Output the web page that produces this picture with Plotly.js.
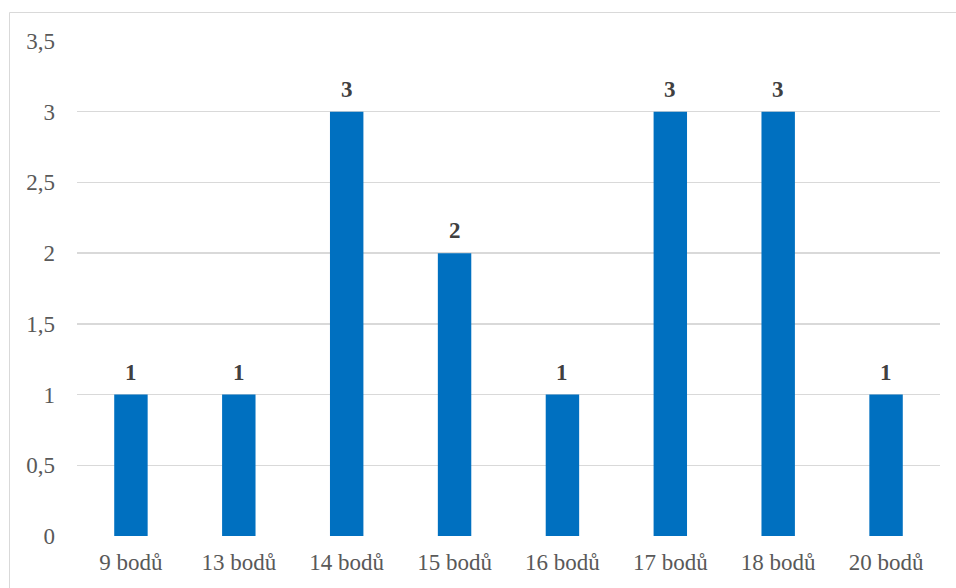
<!DOCTYPE html>
<html>
<head>
<meta charset="utf-8">
<script src="https://cdn.plot.ly/plotly-3.0.1.min.js"></script>
<style>
  html, body { margin: 0; padding: 0; background: #ffffff; }
  #chart { width: 956px; height: 588px; }
</style>
</head>
<body>
<div id="chart"></div>
<script>
// Počet žáků podle dosaženého počtu bodů
const categories = ['9 bodů', '13 bodů', '14 bodů', '15 bodů', '16 bodů', '17 bodů', '18 bodů', '20 bodů'];
const counts = [1, 1, 3, 2, 1, 3, 3, 1];
const yTickValues = [0, 0.5, 1, 1.5, 2, 2.5, 3, 3.5];
const yTickLabels = ['0', '0,5', '1', '1,5', '2', '2,5', '3', '3,5'];

const W = 956, H = 588;
const margin = { l: 77, r: 16, t: 41, b: 52 };
const plotW = W - margin.l - margin.r;
const plotH = H - margin.t - margin.b;
const SERIF = "'Liberation Serif', 'Times New Roman', Times, serif";

const barTrace = {
  type: 'bar',
  x: categories,
  y: counts,
  marker: { color: '#0070C0', line: { width: 0 } },
  width: 0.31,
  hoverinfo: 'skip'
};

// Value labels above each bar
const labels = categories.map((c, i) => ({
  x: c,
  y: counts[i],
  xref: 'x',
  yref: 'y',
  text: '<b>' + String(counts[i]) + '</b>',
  showarrow: false,
  yanchor: 'bottom',
  yshift: 8,
  font: { family: SERIF, size: 23, color: '#404040' }
}));

// Outer chart frame (left and top edges visible)
const frame = {
  type: 'rect',
  xref: 'paper', yref: 'paper',
  x0: (9.5 - margin.l) / plotW,
  x1: (W + 20 - margin.l) / plotW,
  y0: -(H + 20 - margin.t - plotH) / plotH,
  y1: (H - margin.b - 12.5) / plotH,
  line: { color: '#d9d9d9', width: 1 },
  fillcolor: 'rgba(0,0,0,0)',
  layer: 'below'
};

const layout = {
  width: W,
  height: H,
  margin: margin,
  paper_bgcolor: '#ffffff',
  plot_bgcolor: '#ffffff',
  showlegend: false,
  font: { family: SERIF, size: 23, color: '#595959' },
  xaxis: {
    type: 'category',
    showgrid: false,
    zeroline: false,
    showline: false,
    ticks: '',
    ticklabelstandoff: 10,
    tickfont: { family: SERIF, size: 23, color: '#595959' },
    fixedrange: true
  },
  yaxis: {
    range: [0, 3.5],
    tickvals: yTickValues,
    ticktext: yTickLabels,
    showgrid: true,
    gridcolor: '#d9d9d9',
    gridwidth: 1.5,
    zeroline: false,
    showline: false,
    ticks: '',
    ticklabelstandoff: 21,
    tickfont: { family: SERIF, size: 23, color: '#595959' },
    fixedrange: true
  },
  annotations: labels,
  shapes: [frame]
};

Plotly.newPlot('chart', [barTrace], layout, { displayModeBar: false, staticPlot: true });
</script>
</body>
</html>
